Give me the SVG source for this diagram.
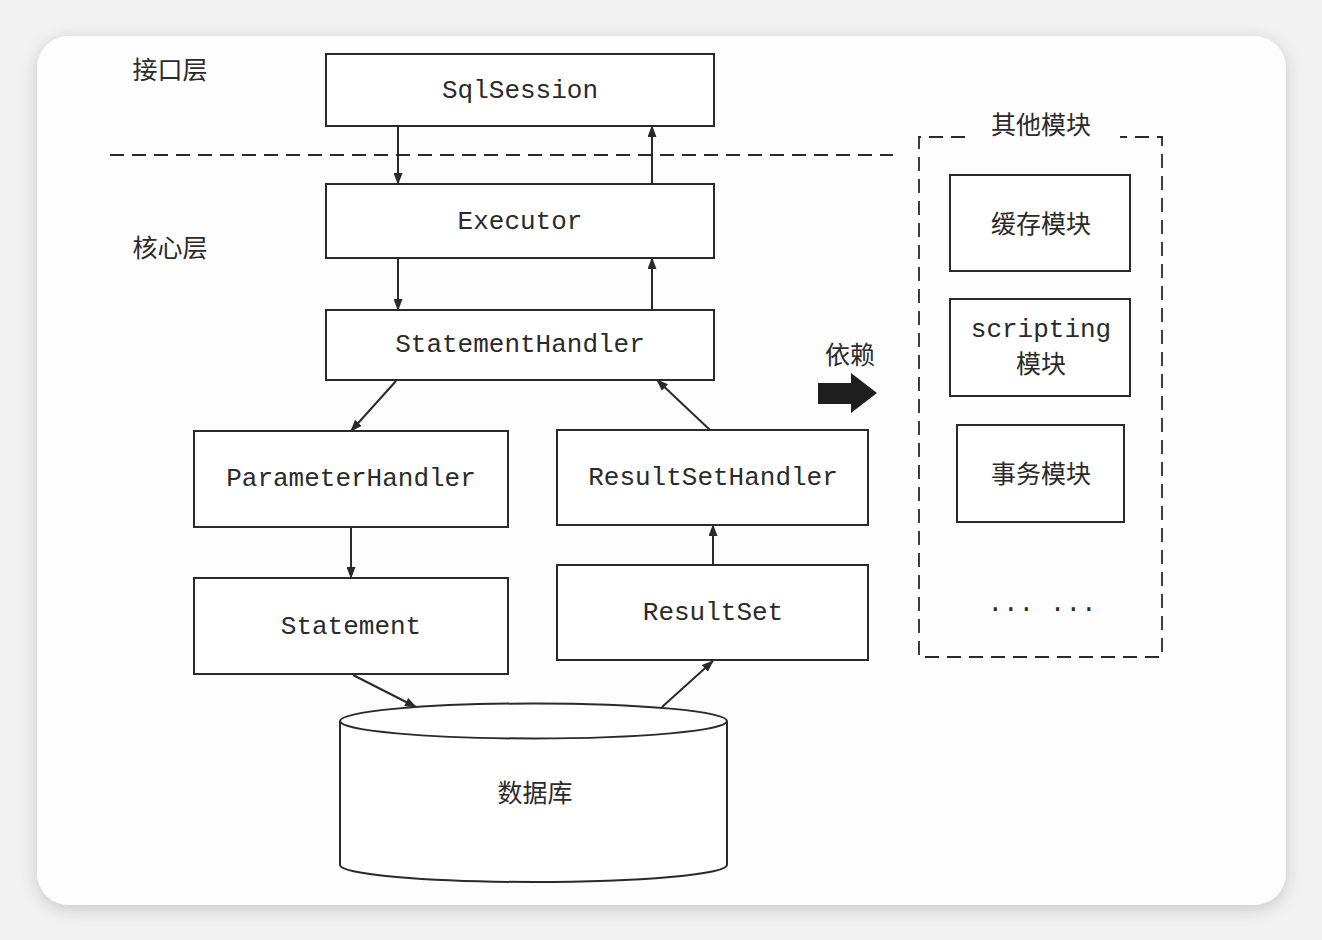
<svg xmlns="http://www.w3.org/2000/svg" width="1322" height="940" viewBox="0 0 1322 940">
<style>
.box{fill:#fff;stroke:#2a2a2a;stroke-width:2}
.mono{font-family:"Liberation Mono","DejaVu Sans Mono",monospace;font-size:26px;fill:#2a2a2a;text-anchor:middle;dominant-baseline:central}
.cjk{font-family:"Noto Sans CJK SC","Noto Sans",sans-serif;font-size:25px;fill:#2a2a2a;text-anchor:middle;dominant-baseline:central}
.conn{stroke:#2a2a2a;stroke-width:2;fill:none;marker-end:url(#ah)}
.dash{stroke:#2a2a2a;stroke-width:1.8;fill:none;stroke-dasharray:14 8}
</style>
<defs>
<marker id="ah" viewBox="0 0 12 9" refX="11" refY="4.5" markerWidth="12" markerHeight="9" markerUnits="userSpaceOnUse" orient="auto">
<path d="M0,0 L12,4.5 L0,9 z" fill="#2a2a2a"/>
</marker>
<filter id="sh" x="-10%" y="-10%" width="120%" height="120%">
<feGaussianBlur in="SourceAlpha" stdDeviation="9"/>
<feOffset dx="0" dy="4"/>
<feComponentTransfer><feFuncA type="linear" slope="0.18"/></feComponentTransfer>
<feMerge><feMergeNode/><feMergeNode in="SourceGraphic"/></feMerge>
</filter>
</defs>
<rect x="0" y="0" width="1322" height="940" fill="#f2f2f2"/>
<rect x="37" y="36" width="1249" height="869" rx="32" fill="#fdfdfd" filter="url(#sh)"/>

<g id="layer-labels">
<text class="cjk" x="170" y="68">接口层</text>
<text class="cjk" x="170" y="246">核心层</text>
</g>
<path id="layer-divider" class="dash" d="M110,155 H893"/>

<g id="sqlsession"><rect class="box" x="326" y="54" width="388" height="72"/><text class="mono" x="520" y="91">SqlSession</text></g>
<g id="executor"><rect class="box" x="326" y="184" width="388" height="74"/><text class="mono" x="520" y="222">Executor</text></g>
<g id="statementhandler"><rect class="box" x="326" y="310" width="388" height="70"/><text class="mono" x="520" y="345">StatementHandler</text></g>
<g id="parameterhandler"><rect class="box" x="194" y="431" width="314" height="96"/><text class="mono" x="351" y="479">ParameterHandler</text></g>
<g id="resultsethandler"><rect class="box" x="557" y="430" width="311" height="95"/><text class="mono" x="713" y="478">ResultSetHandler</text></g>
<g id="statement"><rect class="box" x="194" y="578" width="314" height="96"/><text class="mono" x="351" y="627">Statement</text></g>
<g id="resultset"><rect class="box" x="557" y="565" width="311" height="95"/><text class="mono" x="713" y="613">ResultSet</text></g>
<g id="database">
<path class="box" d="M340,721 V865 A193.5,17 0 0 0 727,865 V721"/>
<ellipse class="box" cx="533.5" cy="721" rx="193.5" ry="17.5"/>
<text class="cjk" x="535" y="791">数据库</text>
</g>

<g id="other-modules">
<path class="dash" d="M965,137 H919 V657 H1162 V137 H1120"/>
<text class="cjk" x="1041" y="123">其他模块</text>
</g>
<g id="cache-module"><rect class="box" x="950" y="175" width="180" height="96"/><text class="cjk" x="1041" y="222">缓存模块</text></g>
<g id="scripting-module"><rect class="box" x="950" y="299" width="180" height="97"/><text class="mono" x="1041" y="330">scripting</text><text class="cjk" x="1041" y="362">模块</text></g>
<g id="transaction-module"><rect class="box" x="957" y="425" width="167" height="97"/><text class="cjk" x="1041" y="472">事务模块</text></g>
<g id="more-modules"><text class="mono" x="1042" y="604">... ...</text></g>

<g id="dependency">
<text class="cjk" x="850" y="353">依赖</text>
<path d="M818,383 H851 V373 L877,393 L851,413 V404 H818 Z" fill="#1e1e1e"/>
</g>

<g id="connectors">
<path class="conn" d="M398,126 V184"/>
<path class="conn" d="M652,184 V126"/>
<path class="conn" d="M398,258 V310"/>
<path class="conn" d="M652,310 V258"/>
<path class="conn" d="M396,381 L351,431"/>
<path class="conn" d="M710,430 L657,380"/>
<path class="conn" d="M351,527 V578"/>
<path class="conn" d="M353,675 L416,707"/>
<path class="conn" d="M662,707 L713,661"/>
<path class="conn" d="M713,565 V525"/>
</g>
</svg>
